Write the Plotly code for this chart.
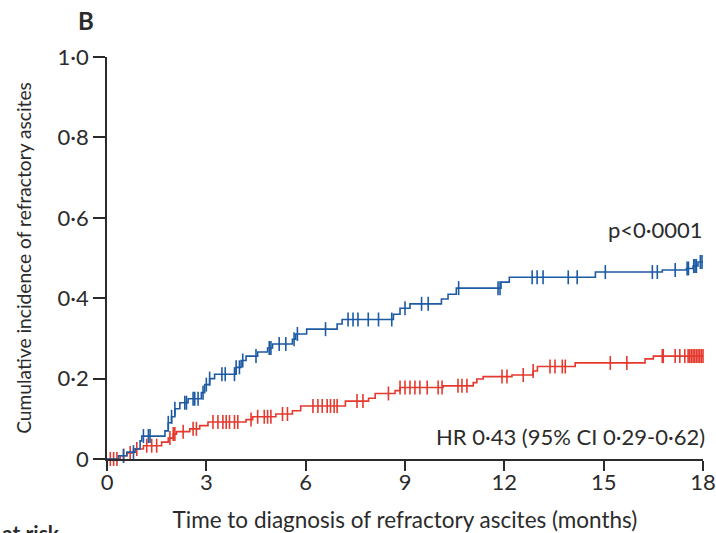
import numpy as np
import plotly.graph_objects as go

# Cumulative incidence of refractory ascites, step curves (event times in months)
blue_times = [0, 0.35, 0.6, 0.85, 1.0, 1.05, 1.75, 1.85, 1.95, 2.05, 2.2, 2.45, 2.85, 2.95,
              3.1, 3.25, 3.9, 4.05, 4.2, 4.55, 4.85, 5.0, 5.6, 5.7, 6.03, 6.95, 7.1, 8.65,
              8.85, 9.15, 10.1, 10.3, 10.55, 11.9, 12.15, 14.75, 16.77, 17.5, 17.7, 17.85]
blue_values = [0, 0.008, 0.017, 0.025, 0.045, 0.057, 0.07, 0.09, 0.105, 0.125, 0.14, 0.15, 0.165, 0.185,
               0.2, 0.211, 0.228, 0.245, 0.256, 0.266, 0.276, 0.286, 0.298, 0.311, 0.323, 0.336, 0.347, 0.36,
               0.375, 0.386, 0.398, 0.41, 0.425, 0.44, 0.452, 0.465, 0.47, 0.474, 0.48, 0.49]
blue_censored = [0.5, 0.8, 1.1, 1.25, 1.3, 1.85, 1.95, 2.05, 2.35, 2.4, 2.6, 2.65, 2.75, 2.9, 3.0,
                 3.1, 3.47, 3.57, 3.85, 3.9, 4.0, 4.1, 4.5, 4.9, 4.95, 5.2, 5.4, 5.65, 5.75, 6.6,
                 7.28, 7.43, 7.58, 7.89, 8.2, 8.6, 9.0, 9.5, 9.7, 10.62, 11.81, 11.87, 12.84, 12.99,
                 13.17, 13.93, 14.2, 15.05, 16.47, 16.62, 17.16, 17.52, 17.56, 17.72, 17.76, 17.8,
                 17.92, 17.97]

red_times = [0, 0.4, 0.6, 0.8, 1.1, 1.65, 1.85, 2.0, 2.1, 2.5, 2.8, 3.05, 4.2, 4.4, 5.1, 5.6,
             5.85, 7.2, 7.9, 8.1, 8.7, 8.85, 10.15, 11.06, 11.17, 11.36, 12.23, 12.87, 13.0,
             14.14, 16.25, 16.5]
red_values = [0, 0.008, 0.015, 0.025, 0.033, 0.042, 0.052, 0.062, 0.068, 0.075, 0.083, 0.092, 0.098,
              0.105, 0.112, 0.12, 0.132, 0.144, 0.151, 0.163, 0.17, 0.178, 0.182, 0.19, 0.199,
              0.205, 0.209, 0.219, 0.23, 0.239, 0.249, 0.256]
red_censored = [0.1, 0.2, 0.3, 0.5, 0.7, 0.9, 1.2, 1.35, 1.5, 1.9, 2.0, 2.05, 2.3, 2.6, 2.7, 3.2,
                3.35, 3.5, 3.6, 3.7, 3.85, 3.95, 4.35, 4.55, 4.75, 4.85, 4.95, 5.3, 5.45, 6.22,
                6.37, 6.5, 6.65, 6.75, 6.86, 6.95, 7.55, 7.73, 8.5, 8.85, 9.0, 9.15, 9.3, 9.45,
                9.67, 10.0, 10.12, 10.6, 10.72, 10.87, 11.93, 12.08, 12.57, 12.87, 13.38, 13.53,
                13.75, 13.84, 15.2, 15.7, 16.77, 16.8, 17.16, 17.3, 17.45, 17.55, 17.6, 17.65,
                17.7, 17.75, 17.8, 17.85, 17.9, 17.95, 18.0]

x_ticks = [0, 3, 6, 9, 12, 15, 18]
y_ticks = [0, 0.2, 0.4, 0.6, 0.8, 1.0]
y_tick_text = ["0", "0·2", "0·4", "0·6", "0·8", "1·0"]

BLUE = "#1c5aa3"
RED = "#e4392e"
INK = "#2b2b2b"
FONT = "Lato"
END = 18


def step_at(times, values, t):
    idx = np.searchsorted(np.asarray(times), np.asarray(t), side="right") - 1
    return np.asarray(values)[idx]


fig = go.Figure()
for times, values, cens, color in [(red_times, red_values, red_censored, RED),
                                   (blue_times, blue_values, blue_censored, BLUE)]:
    xs = list(times) + [END]
    ys = list(values) + [values[-1]]
    fig.add_trace(go.Scatter(x=xs, y=ys, mode="lines", line=dict(color=color, width=1.6, shape="hv"),
                             hoverinfo="skip", showlegend=False, cliponaxis=False))
    fig.add_trace(go.Scatter(x=cens, y=step_at(times, values, cens), mode="markers",
                             marker=dict(symbol="line-ns-open", size=10, color=color,
                                         line=dict(color=color, width=1.6)),
                             hoverinfo="skip", showlegend=False, cliponaxis=False))

axis_common = dict(showline=True, linecolor=INK, linewidth=1.5, ticks="outside",
                   tickwidth=1.5, tickcolor=INK, showgrid=False, zeroline=False,
                   automargin=False, tickfont=dict(family=FONT, size=22, color=INK))

fig.update_layout(
    width=716, height=533,
    margin=dict(l=107, r=13, t=57, b=74),
    paper_bgcolor="white", plot_bgcolor="white",
    xaxis=dict(range=[0, 18], tickvals=x_ticks, ticktext=[str(v) for v in x_ticks], ticklen=10,
               ticklabelstandoff=-7,
               title=dict(text="Time to diagnosis of refractory ascites (months)",
                          font=dict(family=FONT, size=22.5, color=INK), standoff=23),
               **axis_common),
    yaxis=dict(range=[0, 1], tickvals=y_ticks, ticktext=y_tick_text, ticklen=12,
               title=dict(text="Cumulative incidence of refractory ascites",
                          font=dict(family=FONT, size=19.2, color=INK), standoff=21),
               **axis_common),
    annotations=[
        dict(text="<b>B</b>", xref="paper", yref="paper", x=-0.052, y=1.0, yshift=37,
             xanchor="left", yanchor="middle", showarrow=False,
             font=dict(family=FONT, size=24, color=INK)),
        dict(text="p<0·0001", xref="paper", yref="y", x=1.004, y=0.57, xanchor="right",
             yanchor="middle", showarrow=False, font=dict(family=FONT, size=22, color=INK)),
        dict(text="HR 0·43 (95% CI 0·29-0·62)", xref="paper", yref="y", x=1.006, y=0.057,
             xanchor="right", yanchor="middle", showarrow=False,
             font=dict(family=FONT, size=22, color=INK)),
        dict(text="<b>Number at risk</b>", xref="paper", yref="paper", x=-0.0755, y=0,
             yshift=-73, xanchor="right", yanchor="middle", showarrow=False,
             font=dict(family=FONT, size=21, color=INK)),
    ],
)

fig.write_html("out.html")
